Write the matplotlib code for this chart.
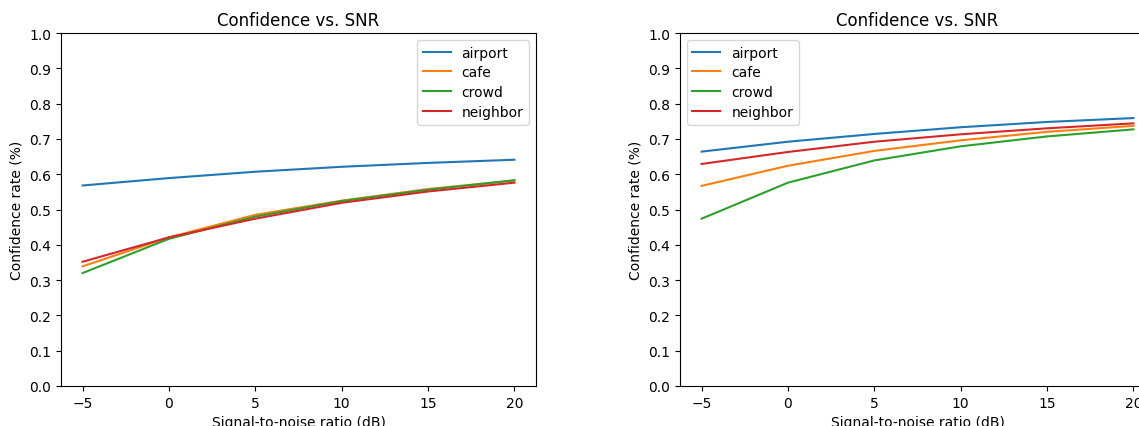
import numpy as np
import matplotlib
matplotlib.use("Agg")
import matplotlib.pyplot as plt

snr = [-5, 0, 5, 10, 15, 20]
labels = ["airport", "cafe", "crowd", "neighbor"]

# confidence per noise type, first model
left_airport = [0.568, 0.589, 0.607, 0.621, 0.632, 0.641]
left_cafe = [0.339, 0.421, 0.485, 0.525, 0.558, 0.582]
left_crowd = [0.320, 0.417, 0.480, 0.524, 0.556, 0.583]
left_neighbor = [0.352, 0.421, 0.474, 0.519, 0.551, 0.576]

# confidence per noise type, second model
right_airport = [0.664, 0.692, 0.714, 0.733, 0.748, 0.759]
right_cafe = [0.567, 0.624, 0.666, 0.696, 0.720, 0.737]
right_crowd = [0.474, 0.576, 0.639, 0.679, 0.707, 0.727]
right_neighbor = [0.629, 0.663, 0.692, 0.713, 0.730, 0.744]

fig = plt.figure(figsize=(11.39, 4.27), dpi=100)
ax1 = fig.add_axes([61 / 1139, 40 / 427, 475 / 1139, 353 / 427])
ax2 = fig.add_axes([680 / 1139, 40 / 427, 475 / 1139, 353 / 427])

for ax, series, loc in [
    (ax1, [left_airport, left_cafe, left_crowd, left_neighbor], "upper right"),
    (ax2, [right_airport, right_cafe, right_crowd, right_neighbor], "upper left"),
]:
    for vals, name in zip(series, labels):
        ax.plot(snr, vals, label=name)
    ax.set_ylim(0, 1)
    ax.set_yticks(np.arange(0, 1.01, 0.1))
    ax.set_title("Confidence vs. SNR")
    ax.set_xlabel("Signal-to-noise ratio (dB)")
    ax.set_ylabel("Confidence rate (%)")
    ax.legend(loc=loc, labelspacing=0.42)

fig.savefig("out.png", dpi=100)
